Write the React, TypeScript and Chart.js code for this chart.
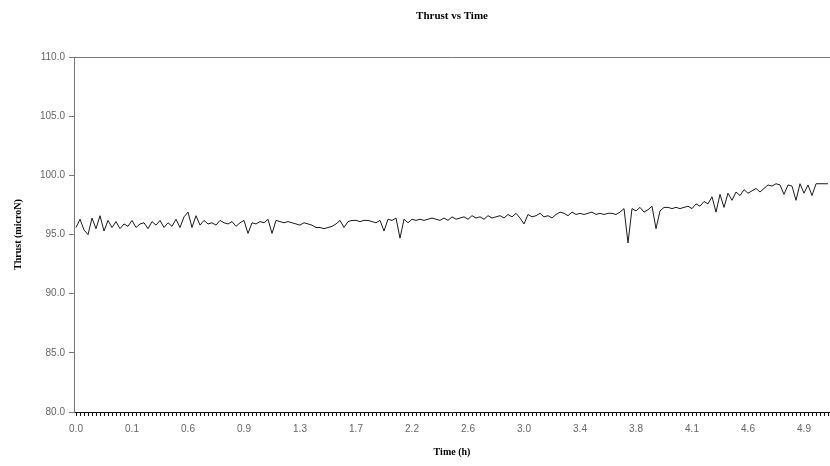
import React, { useEffect, useRef } from "react";
import { Chart, registerables } from "chart.js";

Chart.register(...registerables);

const tickLabels = ["0.0", "0.1", "0.6", "0.9", "1.3", "1.7", "2.2", "2.6", "3.0", "3.4", "3.8", "4.1", "4.6", "4.9"];
const labelEvery = 14;

const thrust = [
  95.6, 96.3, 95.4, 95.0, 96.4, 95.5, 96.6, 95.3, 96.2, 95.6,
  96.1, 95.5, 95.9, 95.7, 96.2, 95.6, 95.9, 96.0, 95.5, 96.1,
  95.8, 96.2, 95.6, 96.0, 95.7, 96.3, 95.6, 96.5, 96.9, 95.6,
  96.6, 95.8, 96.2, 95.9, 96.0, 95.8, 96.2, 96.0, 95.9, 96.1,
  95.7, 96.0, 96.2, 95.1, 96.0, 95.9, 96.1,
  96.0, 96.3, 95.1, 96.2, 96.1, 96.0, 96.1, 96.0, 95.9, 95.8, 96.0, 95.9, 95.8,
  95.6, 95.6, 95.5, 95.6, 95.7,
  95.9, 96.2, 95.6, 96.1, 96.2, 96.2, 96.1, 96.2, 96.2, 96.1, 96.0,
  96.2, 95.3, 96.3, 96.2, 96.4,
  94.7, 96.3, 96.0, 96.3, 96.2, 96.3, 96.2, 96.3, 96.4, 96.3, 96.2,
  96.4, 96.2, 96.5, 96.3, 96.4, 96.5, 96.3, 96.6, 96.4, 96.5,
  96.3, 96.6, 96.4, 96.5, 96.6, 96.4, 96.7, 96.5, 96.8, 96.4,
  95.9, 96.7, 96.5, 96.6, 96.8, 96.5, 96.6, 96.4, 96.7, 96.9,
  96.8, 96.6, 96.9, 96.7, 96.8, 96.7, 96.8, 96.9, 96.7, 96.8, 96.7, 96.8, 96.8, 96.7, 96.9, 97.2,
  94.3,
  97.2, 97.0, 97.3, 96.9, 97.1, 97.4,
  95.5,
  97.0, 97.3, 97.3, 97.2, 97.3, 97.2, 97.3, 97.4,
  97.2, 97.6, 97.4, 97.8, 97.6, 98.2,
  96.9, 98.4, 97.3, 98.5,
  97.9, 98.6, 98.3, 98.8, 98.5, 98.7, 98.9, 98.6, 98.9,
  99.2, 99.1, 99.3, 99.2, 98.4, 99.2, 99.1, 97.9, 99.3,
  98.5, 99.2, 98.3, 99.3, 99.3, 99.3, 99.3,
];

const yMin = 80;
const yMax = 110;
const yStep = 5;

export default function App() {
  const ref = useRef<HTMLCanvasElement | null>(null);
  useEffect(() => {
    if (!ref.current) return;
    const labels = thrust.map((_, i) => (i % labelEvery === 0 ? tickLabels[i / labelEvery] ?? "" : ""));
    const chart = new Chart(ref.current, {
      type: "line",
      data: {
        labels,
        datasets: [
          {
            data: thrust,
            borderColor: "#1a1a1a",
            borderWidth: 1,
            pointRadius: 0,
            tension: 0,
            fill: false,
          },
        ],
      },
      options: {
        animation: false,
        responsive: true,
        maintainAspectRatio: false,
        layout: { padding: { left: 0, right: 0, top: 0, bottom: 0 } },
        plugins: {
          legend: { display: false },
          tooltip: { enabled: false },
          title: {
            display: true,
            text: "Thrust vs Time",
            fullSize: false,
            color: "#000",
            font: { family: "'Liberation Serif', 'DejaVu Serif', serif", size: 11, weight: "bold" },
            padding: { top: 10, bottom: 34 },
          },
        },
        scales: {
          x: {
            type: "category",
            offset: true,
            afterFit: (axis: any) => {
              axis.height = 54;
              axis.paddingRight = 0;
              axis.paddingLeft = 0;
            },
            border: { display: true, color: "#111", width: 1 },
            grid: { drawOnChartArea: false, drawTicks: true, tickLength: 4, color: "#111", offset: false },
            ticks: {
              autoSkip: false,
              maxRotation: 0,
              minRotation: 0,
              padding: 7,
              color: "#666",
              font: { family: "'Liberation Sans', Arial, sans-serif", size: 10 },
            },
            title: {
              display: true,
              text: "Time (h)",
              color: "#000",
              font: { family: "'Liberation Serif', 'DejaVu Serif', serif", size: 10, weight: "bold" },
              padding: { top: 4, bottom: 8 },
            },
          },
          y: {
            min: yMin,
            max: yMax,
            afterFit: (axis: any) => {
              axis.width = 74;
              axis.paddingTop = 0;
              axis.paddingBottom = 0;
            },
            border: { display: true, color: "#777", width: 1 },
            grid: {
              drawOnChartArea: true,
              color: (c: any) => (c.tick && c.tick.value === yMax ? "#777" : "rgba(0,0,0,0)"),
              tickColor: "#777",
              tickLength: 5,
            },
            ticks: {
              stepSize: yStep,
              padding: 4,
              color: "#666",
              font: { family: "'Liberation Sans', Arial, sans-serif", size: 10 },
              callback: (v: any) => Number(v).toFixed(1),
            },
            title: {
              display: true,
              text: "Thrust (microN)",
              color: "#000",
              font: { family: "'Liberation Serif', 'DejaVu Serif', serif", size: 10, weight: "bold" },
              padding: { top: 12, bottom: 4 },
            },
          },
        },
      },
    });
    return () => chart.destroy();
  }, []);
  return (
    <div style={{ position: "fixed", left: 0, top: 0, width: 830, height: 466, background: "#fff" }}>
      <canvas ref={ref} />
    </div>
  );
}
